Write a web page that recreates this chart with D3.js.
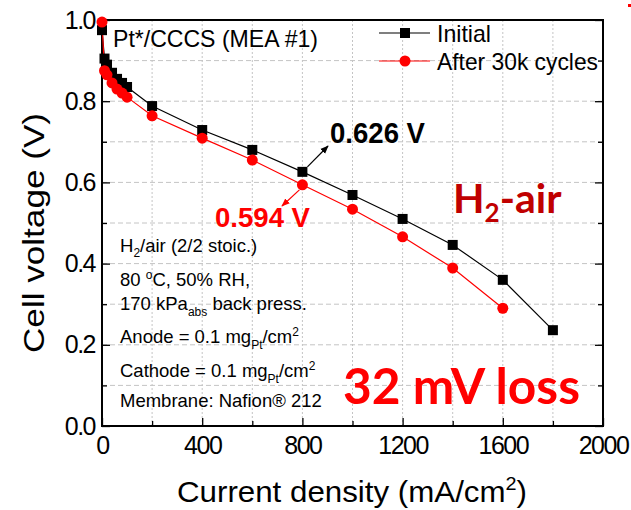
<!DOCTYPE html>
<html>
<head>
<meta charset="utf-8">
<script src="https://cdn.jsdelivr.net/npm/d3@7"></script>
<style>
  body { margin: 0; background: #fff; }
  text { font-family: "Liberation Sans", Arial, sans-serif; }
</style>
</head>
<body>
<svg id="chart" width="631" height="510"></svg>
<script>
// data
var currentInitial = [0, 10, 20, 40, 60, 80, 100, 200, 400, 600, 800, 1000, 1200, 1400, 1600, 1800];
var voltInitial    = [0.975, 0.905, 0.89, 0.87, 0.855, 0.845, 0.835, 0.788, 0.729, 0.68, 0.626, 0.569, 0.51, 0.446, 0.36, 0.236];
var currentAged    = [0, 10, 20, 40, 60, 80, 100, 200, 400, 600, 800, 1000, 1200, 1400, 1600];
var voltAged       = [0.995, 0.875, 0.865, 0.845, 0.83, 0.82, 0.81, 0.764, 0.709, 0.655, 0.594, 0.534, 0.466, 0.389, 0.29];
var xTicks      = [0, 400, 800, 1200, 1600, 2000];
var xMinorTicks = [200, 600, 1000, 1400, 1800];
var yTicks      = [0.0, 0.2, 0.4, 0.6, 0.8, 1.0];
var yMinorTicks = [0.1, 0.3, 0.5, 0.7, 0.9];
var seriesNames = ['Initial', 'After 30k cycles'];

var svg = d3.select('#chart');
var m = {left: 102, top: 20, right: 28, bottom: 84};
var W = 631 - m.left - m.right, H = 510 - m.top - m.bottom;

var x = d3.scaleLinear().domain([0, 2000]).range([0, W]);
var y = d3.scaleLinear().domain([0, 1]).range([H, 0]);

var g = svg.append('g').attr('transform', 'translate(' + m.left + ',' + m.top + ')');

// grid
var gridX = d3.range(200, 2000, 200), gridY = d3.range(0.1, 1.0, 0.1);
g.selectAll('.gx').data(gridX).enter().append('line')
  .attr('x1', function(d) { return x(d); }).attr('x2', function(d) { return x(d); })
  .attr('y1', 0).attr('y2', H)
  .style('stroke', '#c4c4c4').style('stroke-dasharray', '2,2').style('stroke-width', 1);
g.selectAll('.gy').data(gridY).enter().append('line')
  .attr('y1', function(d) { return y(d); }).attr('y2', function(d) { return y(d); })
  .attr('x1', 0).attr('x2', W)
  .style('stroke', '#c4c4c4').style('stroke-dasharray', '5,3').style('stroke-width', 1);

// axes, ticks inside
var fmtY = d3.format('.1f');
g.append('g').attr('transform', 'translate(0,' + H + ')')
  .call(d3.axisBottom(x).tickValues(xTicks).tickSize(-8).tickPadding(10).tickFormat(d3.format('d')));
g.append('g').attr('transform', 'translate(0,' + H + ')')
  .call(d3.axisBottom(x).tickValues(xMinorTicks).tickSize(-5).tickFormat(''));
g.append('g')
  .call(d3.axisLeft(y).tickValues(yTicks).tickSize(-8).tickPadding(7).tickFormat(fmtY));
g.append('g').call(d3.axisLeft(y).tickValues(yMinorTicks).tickSize(-5).tickFormat(''));
g.append('g').attr('transform', 'translate(' + W + ',0)')
  .call(d3.axisRight(y).tickValues(yTicks).tickSize(-8).tickFormat(''));
g.append('g').attr('transform', 'translate(' + W + ',0)')
  .call(d3.axisRight(y).tickValues(yMinorTicks).tickSize(-5).tickFormat(''));
g.selectAll('.domain').remove();
g.selectAll('.tick line').style('stroke', '#000').style('stroke-width', 1.3);
g.selectAll('.tick text').style('font-size', '25px').style('letter-spacing', '-1.5px')
  .style('fill', '#000');

g.append('rect').attr('width', W).attr('height', H)
  .style('fill', 'none').style('stroke', '#000').style('stroke-width', 2);

// series
var line = d3.line().x(function(d) { return x(d[0]); }).y(function(d) { return y(d[1]); });
var initPts = d3.zip(currentInitial, voltInitial);
var agedPts = d3.zip(currentAged, voltAged);

g.append('path').datum(initPts).attr('d', line)
  .style('fill', 'none').style('stroke', '#000').style('stroke-width', 1.2);
g.append('path').datum(agedPts).attr('d', line)
  .style('fill', 'none').style('stroke', '#ff0000').style('stroke-width', 1.2);

g.selectAll('.sq').data(initPts).enter().append('rect')
  .attr('x', function(d) { return x(d[0]) - 5; }).attr('y', function(d) { return y(d[1]) - 5; })
  .attr('width', 10).attr('height', 10).style('fill', '#000');
g.selectAll('.ci').data(agedPts).enter().append('circle')
  .attr('cx', function(d) { return x(d[0]); }).attr('cy', function(d) { return y(d[1]); })
  .attr('r', 5.5).style('fill', '#ff0000');

// axis titles
svg.append('text').attr('x', 352).attr('y', 502).attr('text-anchor', 'middle')
  .attr('textLength', 350).attr('lengthAdjust', 'spacingAndGlyphs')
  .style('font-size', '30px')
  .html('Current density (mA/cm<tspan dy="-12" font-size="19px">2</tspan><tspan dy="12">)</tspan>');
svg.append('text').attr('transform', 'translate(44,233) rotate(-90)').attr('text-anchor', 'middle')
  .attr('textLength', 240).attr('lengthAdjust', 'spacingAndGlyphs')
  .style('font-size', '30px').text('Cell voltage (V)');
// cut-off label of the neighbouring panel
svg.append('text').attr('transform', 'translate(657,233) rotate(-90)').attr('text-anchor', 'middle')
  .attr('textLength', 240).attr('lengthAdjust', 'spacingAndGlyphs')
  .style('font-size', '30px').text('Cell voltage (V)');
svg.append('rect').attr('x', 628).attr('y', 4).attr('width', 3).attr('height', 3).style('fill', '#ff0000');

// title text
svg.append('text').attr('x', 113).attr('y', 47)
  .attr('textLength', 205).attr('lengthAdjust', 'spacingAndGlyphs')
  .style('font-size', '24px').text('Pt*/CCCS (MEA #1)');

// legend
var leg = svg.append('g');
var legY = [33, 61];
leg.selectAll('line').data(seriesNames).enter().append('line')
  .attr('x1', 379).attr('x2', 430)
  .attr('y1', function(d, i) { return legY[i]; }).attr('y2', function(d, i) { return legY[i]; })
  .style('stroke', function(d, i) { return i ? '#ff0000' : '#000'; }).style('stroke-width', 1.2);
leg.append('rect').attr('x', 400).attr('y', legY[0] - 5).attr('width', 10).attr('height', 10).style('fill', '#000');
leg.append('circle').attr('cx', 405).attr('cy', legY[1]).attr('r', 5.5).style('fill', '#ff0000');
leg.selectAll('text').data(seriesNames).enter().append('text')
  .attr('x', 437).attr('y', function(d, i) { return legY[i] + 9; })
  .attr('textLength', function(d, i) { return i ? 161 : 54; }).attr('lengthAdjust', 'spacingAndGlyphs')
  .style('font-size', '24px').text(function(d) { return d; });

// condition notes
var notes = svg.append('g').style('font-size', '18.5px');
notes.append('text').attr('x', 120).attr('y', 252)
  .html('H<tspan dy="5" font-size="12px">2</tspan><tspan dy="-5">/air (2/2 stoic.)</tspan>');
notes.append('text').attr('x', 120).attr('y', 286)
  .html('80 <tspan dy="-7" font-size="12px">o</tspan><tspan dy="7">C, 50% RH,</tspan>');
notes.append('text').attr('x', 120).attr('y', 310)
  .html('170 kPa<tspan dy="6" font-size="12px">abs</tspan><tspan dy="-6"> back press.</tspan>');
notes.append('text').attr('x', 120).attr('y', 343)
  .html('Anode = 0.1 mg<tspan dy="6" font-size="12px">Pt</tspan><tspan dy="-6">/cm</tspan><tspan dy="-7" font-size="12px">2</tspan>');
notes.append('text').attr('x', 120).attr('y', 377)
  .html('Cathode = 0.1 mg<tspan dy="6" font-size="12px">Pt</tspan><tspan dy="-6">/cm</tspan><tspan dy="-7" font-size="12px">2</tspan>');
notes.append('text').attr('x', 120).attr('y', 407).text('Membrane: Nafion\u00ae 212');

// arrows and value callouts
var defs = svg.append('defs');
[['ah-k', '#000'], ['ah-r', '#ff0000']].forEach(function(a) {
  defs.append('marker').attr('id', a[0]).attr('viewBox', '0 0 10 10').attr('refX', 9).attr('refY', 5)
    .attr('markerWidth', 7).attr('markerHeight', 7).attr('orient', 'auto')
    .append('path').attr('d', 'M0,1 L10,5 L0,9 Z').style('fill', a[1]);
});
var p1 = [m.left + x(800), m.top + y(0.626)];
var p2 = [m.left + x(800), m.top + y(0.594)];
svg.append('line').attr('x1', p1[0] + 5).attr('y1', p1[1] - 5).attr('x2', 328).attr('y2', 146)
  .style('stroke', '#000').style('stroke-width', 1.2).attr('marker-end', 'url(#ah-k)');
svg.append('line').attr('x1', p2[0] - 3).attr('y1', p2[1] + 5).attr('x2', 282).attr('y2', 206)
  .style('stroke', '#ff0000').style('stroke-width', 1.2).attr('marker-end', 'url(#ah-r)');
svg.append('text').attr('x', 330).attr('y', 143)
  .attr('textLength', 95).attr('lengthAdjust', 'spacingAndGlyphs')
  .style('font-size', '29px').style('font-weight', 'bold').text('0.626 V');
svg.append('text').attr('x', 215).attr('y', 227)
  .attr('textLength', 95).attr('lengthAdjust', 'spacingAndGlyphs')
  .style('font-size', '28px').style('font-weight', 'bold').style('fill', '#ff0000').text('0.594 V');

// big labels
svg.append('text').attr('x', 453).attr('y', 213)
  .style('font-family', 'Lato, "Open Sans", sans-serif').style('font-size', '41px')
  .style('font-weight', 'bold').style('fill', '#c00000')
  .html('H<tspan dy="9" font-size="26px">2</tspan><tspan dy="-9">-air</tspan>');
svg.append('text').attr('x', 343).attr('y', 404)
  .attr('textLength', 237).attr('lengthAdjust', 'spacingAndGlyphs')
  .style('font-family', 'Lato, "Open Sans", sans-serif').style('font-size', '49px')
  .style('font-weight', 'bold').style('fill', '#ff0000').text('32 mV loss');
</script>
</body>
</html>
